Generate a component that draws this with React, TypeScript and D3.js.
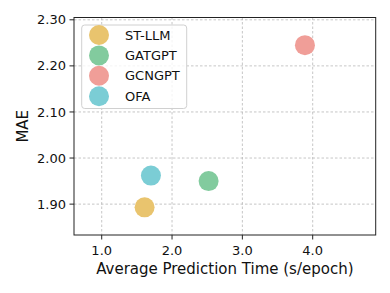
import React from 'react';
import * as d3 from 'd3';

const models = ['ST-LLM', 'GATGPT', 'GCNGPT', 'OFA'];
const times = [1.61, 2.52, 3.89, 1.7];
const maes = [1.893, 1.95, 2.245, 1.962];
const colors = ['#E9C46E', '#82CB9E', '#F09E98', '#7BCDD5'];
const xTicks = [1.0, 2.0, 3.0, 4.0];
const yTicks = [1.9, 2.0, 2.1, 2.2, 2.3];

const W = 390;
const H = 293;
const font = 'DejaVu Sans, sans-serif';

const App = () => {
  const left = 74;
  const right = 375.7;
  const top = 17.5;
  const bottom = 235;

  const x = d3.scaleLinear().domain([0.606, 4.896]).range([left, right]);
  const y = d3.scaleLinear().domain([1.833, 2.305]).range([bottom, top]);
  const fmtX = d3.format('.1f');
  const fmtY = d3.format('.2f');

  return (
    <svg
      width={W}
      height={H}
      style={{ position: 'absolute', left: 0, top: 0, background: '#fff' }}
      fontFamily={font}
    >
      {/* grid */}
      {xTicks.map(t => (
        <line
          key={'gx' + t}
          x1={x(t)}
          x2={x(t)}
          y1={top}
          y2={bottom}
          stroke="#b8b8b8"
          strokeWidth={0.8}
          strokeDasharray="2.5,2"
        />
      ))}
      {yTicks.map(t => (
        <line
          key={'gy' + t}
          x1={left}
          x2={right}
          y1={y(t)}
          y2={y(t)}
          stroke="#b8b8b8"
          strokeWidth={0.8}
          strokeDasharray="2.5,2"
        />
      ))}

      {/* points */}
      {models.map((m, i) => (
        <circle key={m} cx={x(times[i])} cy={y(maes[i])} r={10} fill={colors[i]} />
      ))}

      {/* spines */}
      <rect
        x={left}
        y={top}
        width={right - left}
        height={bottom - top}
        fill="none"
        stroke="#222"
        strokeWidth={1}
      />

      {/* x axis */}
      {xTicks.map(t => (
        <g key={'xt' + t}>
          <line x1={x(t)} x2={x(t)} y1={bottom} y2={bottom + 4.5} stroke="#222" />
          <text x={x(t)} y={bottom + 20} textAnchor="middle" fontSize={13} fill="#111">
            {fmtX(t)}
          </text>
        </g>
      ))}
      <text x={(left + right) / 2} y={274} textAnchor="middle" fontSize={15} fill="#111">
        Average Prediction Time (s/epoch)
      </text>

      {/* y axis */}
      {yTicks.map(t => (
        <g key={'yt' + t}>
          <line x1={left - 4.5} x2={left} y1={y(t)} y2={y(t)} stroke="#222" />
          <text
            x={left - 8}
            y={y(t)}
            dy="0.35em"
            textAnchor="end"
            fontSize={13}
            fill="#111"
          >
            {fmtY(t)}
          </text>
        </g>
      ))}
      <text
        transform={`translate(27.5, ${(top + bottom) / 2}) rotate(-90)`}
        textAnchor="middle"
        fontSize={15}
        fill="#111"
      >
        MAE
      </text>

      {/* legend */}
      <rect
        x={81.7}
        y={25}
        width={105}
        height={83.5}
        rx={3}
        fill="#fff"
        fillOpacity={0.8}
        stroke="#d0d0d0"
        strokeWidth={1}
      />
      {models.map((m, i) => (
        <g key={'lg' + m} transform={`translate(0, ${35 + i * 20.4})`}>
          <circle cx={99} cy={0} r={10} fill={colors[i]} />
          <text x={125} y={0} dy="0.35em" fontSize={13} fill="#111">
            {m}
          </text>
        </g>
      ))}
    </svg>
  );
};

export default App;
